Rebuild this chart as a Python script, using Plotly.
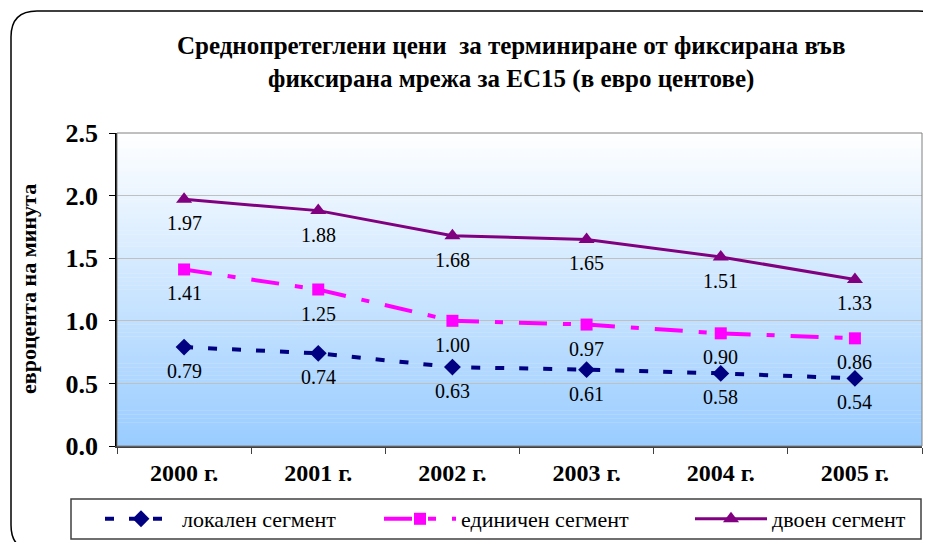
import plotly.graph_objects as go

years = ["2000 г.", "2001 г.", "2002 г.", "2003 г.", "2004 г.", "2005 г."]
local_seg = [0.79, 0.74, 0.63, 0.61, 0.58, 0.54]
single_seg = [1.41, 1.25, 1.00, 0.97, 0.90, 0.86]
double_seg = [1.97, 1.88, 1.68, 1.65, 1.51, 1.33]
series_names = ["локален сегмент", "единичен сегмент", "двоен сегмент"]
y_ticks = [0.0, 0.5, 1.0, 1.5, 2.0, 2.5]

# the page body has an 8px margin, so the figure starts at screen (8, 8)
OFF = 8
W, H = 931 - OFF, 542 - OFF
# plot area on screen: x 117..922, y 133..446
L, T = 117 - OFF, 133 - OFF
R, B = W - (922 - OFF), H - (446 - OFF)
PW, PH = W - L - R, H - T - B
SERIF = "Liberation Serif, Times New Roman, serif"


def px(x):
    """screen x -> paper x"""
    return (x - OFF - L) / PW


def py(y):
    """screen y -> paper y"""
    return (H - B - (y - OFF)) / PH


fig = go.Figure()

styles = [
    dict(line=dict(color="#000080", width=4, dash="9px,15px"),
         marker=dict(symbol="diamond", size=13, color="#000080"), legendwidth=192),
    dict(line=dict(color="#FF00FF", width=4, dash="28px,16px,8px,16px"),
         marker=dict(symbol="square", size=12, color="#FF00FF"), legendwidth=224),
    dict(line=dict(color="#800080", width=3),
         marker=dict(symbol="triangle-up", size=14, color="#800080"), legendwidth=150),
]
annotations = []
for name, vals, st in zip(series_names, [local_seg, single_seg, double_seg], styles):
    fig.add_trace(go.Scatter(x=years, y=vals, name=name, mode="lines+markers", **st))
    for xv, yv in zip(years, vals):
        annotations.append(dict(x=xv, y=yv, xref="x", yref="y", text=f"{yv:.2f}",
                                showarrow=False, yshift=-24, yanchor="middle",
                                font=dict(family=SERIF, size=20, color="black")))

shapes = []
# gradient background for plot area
n = 80
c0 = (255, 255, 255)
c1 = (153, 204, 255)
for i in range(n):
    t = (i + 0.5) / n
    c = tuple(round(c0[k] + (c1[k] - c0[k]) * t) for k in range(3))
    shapes.append(dict(type="rect", xref="paper", yref="paper",
                       x0=0, x1=1, y0=1 - (i + 1) / n, y1=1 - i / n + 0.001,
                       fillcolor="rgb(%d,%d,%d)" % c, line=dict(width=0),
                       layer="below"))
# plot area border
shapes.append(dict(type="rect", xref="paper", yref="paper", x0=0, x1=1, y0=0, y1=1,
                   line=dict(color="#808080", width=1), layer="above"))
# legend box
shapes.append(dict(type="rect", xref="paper", yref="paper", x0=px(71), x1=px(921),
                   y0=py(539), y1=py(499), line=dict(color="#404040", width=1.5),
                   fillcolor="white", layer="below"))

# outer rounded border
x0, x1, y0, y1, r = 11, 944, 11, 551, 26
path = (f"M {px(x0)},{py(y0 + r)} Q {px(x0)},{py(y0)} {px(x0 + r)},{py(y0)} "
        f"L {px(x1 - r)},{py(y0)} Q {px(x1)},{py(y0)} {px(x1)},{py(y0 + r)} "
        f"L {px(x1)},{py(y1 - r)} Q {px(x1)},{py(y1)} {px(x1 - r)},{py(y1)} "
        f"L {px(x0 + r)},{py(y1)} Q {px(x0)},{py(y1)} {px(x0)},{py(y1 - r)} Z")
shapes.append(dict(type="path", xref="paper", yref="paper", path=path,
                   line=dict(color="black", width=1.5), layer="above"))

annotations += [
    dict(text="Среднопретеглени цени  за терминиране от фиксирана във<br>фиксирана мрежа за ЕС15 (в евро центове)",
         xref="paper", yref="paper", x=px(511), y=py(62), xanchor="center", yanchor="middle",
         showarrow=False, font=dict(family=SERIF, size=25, color="black", weight="bold")),
    dict(text="евроцента на минута", xref="paper", yref="paper", x=px(28), y=py(289),
         xanchor="center", yanchor="middle", textangle=-90, showarrow=False,
         font=dict(family=SERIF, size=22, color="black", weight="bold")),
]

fig.update_layout(
    width=W, height=H, margin=dict(l=L, r=R, t=T, b=B, autoexpand=False),
    paper_bgcolor="white", plot_bgcolor="rgba(0,0,0,0)",
    shapes=shapes, annotations=annotations,
    showlegend=True,
    legend=dict(orientation="h", x=px(100), y=py(519), xanchor="left", yanchor="middle",
                borderwidth=0, bgcolor="rgba(0,0,0,0)",
                font=dict(family=SERIF, size=22, color="black"),
                entrywidthmode="pixels", itemwidth=72),
    xaxis=dict(type="category", range=[-0.5, 5.5], showgrid=False, tickson="boundaries",
               ticks="outside", ticklen=6, tickcolor="#404040", showline=True,
               linecolor="#404040", linewidth=1.5, ticklabelstandoff=4,
               tickfont=dict(family=SERIF, size=24, color="black", weight="bold")),
    yaxis=dict(range=[0, 2.5], tickvals=y_ticks, tickformat=".1f", showgrid=True,
               gridcolor="#C0C0C0", gridwidth=1, ticks="outside", ticklen=6,
               tickcolor="black", showline=True, linecolor="black", linewidth=1.5,
               zeroline=False, ticklabelstandoff=6,
               tickfont=dict(family=SERIF, size=26, color="black", weight="bold")),
)

fig.write_html("out.html")
